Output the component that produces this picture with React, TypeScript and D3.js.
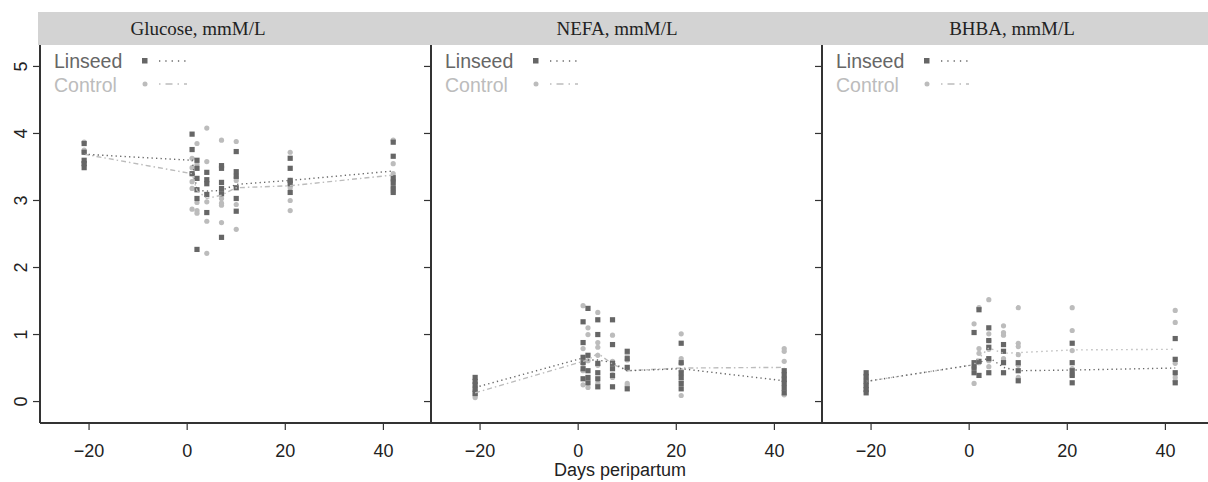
import React from "react";
import * as d3 from "d3";

// ---------- data ----------
const days = [-21, 1, 2, 4, 7, 10, 21, 42];
const panelTitles = ["Glucose, mmM/L", "NEFA, mmM/L", "BHBA, mmM/L"];
const groupNames = ["Linseed", "Control"];
const xTicks = [-20, 0, 20, 40];
const yTicks = [0, 1, 2, 3, 4, 5];

// individual observations, one array per day (same order as `days`)
const glucoseLinseed = [
  [3.85, 3.72, 3.6, 3.49, 3.55],
  [3.99, 3.76, 3.4],
  [3.6, 3.48, 3.33, 3.16, 3.03, 2.27],
  [3.42, 3.31, 3.25, 3.09, 2.82],
  [3.52, 3.48, 3.27, 3.18, 3.1, 2.45],
  [3.73, 3.43, 3.36, 3.19, 3.03, 2.84],
  [3.63, 3.48, 3.3, 3.25, 3.12],
  [3.87, 3.66, 3.34, 3.27, 3.19, 3.12],
];
const glucoseControl = [
  [3.87, 3.75, 3.72, 3.57, 3.54],
  [3.63, 3.49, 3.4, 3.28, 3.18, 2.87],
  [3.85, 3.54, 2.97, 2.85, 2.81],
  [4.08, 3.58, 2.98, 2.69, 2.21],
  [3.9, 3.12, 3.03, 2.96, 2.93, 2.67],
  [3.88, 3.34, 3.3, 2.94, 2.57],
  [3.72, 3.3, 3.22, 3.19, 3.0, 2.85],
  [3.9, 3.55, 3.4, 3.3, 3.19, 3.13],
];
const nefaLinseed = [
  [0.36, 0.3, 0.25, 0.18, 0.12],
  [1.19, 0.88, 0.66, 0.58, 0.49, 0.34],
  [1.39, 0.69, 0.46, 0.36, 0.28],
  [1.22, 1.0, 0.57, 0.43, 0.34, 0.22],
  [1.22, 0.85, 0.57, 0.49, 0.39, 0.22],
  [0.75, 0.64, 0.51, 0.19],
  [0.87, 0.58, 0.43, 0.36, 0.27, 0.19],
  [0.46, 0.4, 0.33, 0.27, 0.2, 0.13],
];
const nefaControl = [
  [0.22, 0.17, 0.12, 0.09, 0.06],
  [1.43, 0.79, 0.57, 0.46, 0.25],
  [1.1, 1.0, 0.61, 0.21],
  [1.33, 0.88, 0.81, 0.69, 0.54, 0.27],
  [0.99, 0.6, 0.4, 0.36],
  [0.7, 0.62, 0.49, 0.27, 0.24],
  [1.01, 0.64, 0.57, 0.46, 0.31, 0.09],
  [0.79, 0.75, 0.6, 0.36, 0.31, 0.1],
];
const bhbaLinseed = [
  [0.43, 0.37, 0.3, 0.24, 0.18, 0.13],
  [1.03, 0.58, 0.51, 0.43],
  [1.37, 0.6, 0.39],
  [1.1, 0.91, 0.81, 0.64, 0.43],
  [0.85, 0.75, 0.58, 0.43],
  [0.58, 0.46, 0.31],
  [0.87, 0.58, 0.46, 0.39, 0.28],
  [0.94, 0.63, 0.43, 0.28],
];
const bhbaControl = [
  [0.4, 0.35, 0.3, 0.25, 0.2, 0.16],
  [1.16, 0.51, 0.27],
  [1.4, 0.79, 0.72, 0.58],
  [1.52, 1.01, 0.91, 0.78, 0.61, 0.52],
  [1.13, 1.03, 0.99, 0.64, 0.61],
  [1.4, 0.87, 0.82, 0.7, 0.54, 0.36],
  [1.4, 1.06, 0.76, 0.49, 0.39],
  [1.36, 1.18, 0.57, 0.36, 0.31],
];

// group mean curves
const glucoseLinseedMean = [3.69, 3.6, 3.15, 3.14, 3.15, 3.24, 3.3, 3.44];
const glucoseControlMean = [3.69, 3.4, 3.15, 3.03, 3.08, 3.19, 3.22, 3.38];
const nefaLinseedMean = [0.21, 0.65, 0.62, 0.62, 0.58, 0.46, 0.49, 0.31];
const nefaControlMean = [0.13, 0.6, 0.62, 0.72, 0.56, 0.46, 0.5, 0.51];
const bhbaLinseedMean = [0.3, 0.55, 0.57, 0.66, 0.51, 0.46, 0.47, 0.5];
const bhbaControlMean = [0.3, 0.55, 0.65, 0.8, 0.72, 0.73, 0.77, 0.78];

const panels = [
  { title: panelTitles[0], lin: glucoseLinseed, ctl: glucoseControl, linM: glucoseLinseedMean, ctlM: glucoseControlMean },
  { title: panelTitles[1], lin: nefaLinseed, ctl: nefaControl, linM: nefaLinseedMean, ctlM: nefaControlMean },
  { title: panelTitles[2], lin: bhbaLinseed, ctl: bhbaControl, linM: bhbaLinseedMean, ctlM: bhbaControlMean },
];

// ---------- layout / style ----------
const W = 1208;
const H = 482;
const panelLeft = [40, 431, 822];
const panelW = 390.5;
const plotTop = 45;
const plotBottom = 423;
const headerTop = 12;
const titleCenters = [198, 617, 1012];
const DARK = "#666666";
const LIGHT = "#bcbcbc";
const AXIS = "#333333";
const sans = "'Liberation Sans', Arial, Helvetica, sans-serif";
const serif = "'Liberation Serif', 'Times New Roman', serif";
const ctlDash = ["5,3,1.5,3", "5,3,1.5,3", "1.5,3.5"];

const y = d3.scaleLinear().domain([-0.32, 5.32]).range([plotBottom, plotTop]);

export default function App() {
  return (
    <svg width={W} height={H} style={{ position: "absolute", left: 0, top: 0, background: "#fff" }}>
      {/* header strip */}
      <rect x={38} y={headerTop} width={W - 38} height={plotTop - headerTop} fill="#d3d3d3" />
      {panels.map((p, i) => (
        <text key={"t" + i} x={titleCenters[i]} y={35} textAnchor="middle" fontFamily={serif} fontSize={19} fill="#222">
          {p.title}
        </text>
      ))}

      {panels.map((p, i) => {
        const left = panelLeft[i];
        const x = d3.scaleLinear().domain([-30, 49.6]).range([left, left + panelW]);
        const lineGen = d3
          .line<number>()
          .x((_, k) => x(days[k]))
          .y((v) => y(v));
        return (
          <g key={"p" + i}>
            {/* control points */}
            {p.ctl.map((arr, k) =>
              arr.map((v, j) => (
                <circle key={`c${k}-${j}`} cx={x(days[k])} cy={y(v)} r={2.6} fill={LIGHT} />
              ))
            )}
            {/* linseed points */}
            {p.lin.map((arr, k) =>
              arr.map((v, j) => (
                <rect key={`s${k}-${j}`} x={x(days[k]) - 2.6} y={y(v) - 2.6} width={5.2} height={5.2} fill={DARK} />
              ))
            )}
            {/* mean lines */}
            <path d={lineGen(p.ctlM) || ""} fill="none" stroke={LIGHT} strokeWidth={1.4} strokeDasharray={ctlDash[i]} />
            <path d={lineGen(p.linM) || ""} fill="none" stroke={DARK} strokeWidth={1.4} strokeDasharray="1.3,3.2" />

            {/* legend */}
            <text x={left + 14} y={68} fontFamily={sans} fontSize={19.5} fill={DARK}>
              {groupNames[0]}
            </text>
            <rect x={left + 102} y={58} width={5.5} height={5.5} fill={DARK} />
            <line x1={left + 119} x2={left + 147} y1={61} y2={61} stroke={DARK} strokeWidth={1.3} strokeDasharray="1.3,5" />
            <text x={left + 14} y={91.5} fontFamily={sans} fontSize={19.5} fill={LIGHT}>
              {groupNames[1]}
            </text>
            <circle cx={left + 105} cy={84} r={2.5} fill={LIGHT} />
            <line x1={left + 119} x2={left + 147} y1={84} y2={84} stroke={LIGHT} strokeWidth={1.3} strokeDasharray="1.5,5,7,5" />

            {/* left border */}
            <line x1={left} x2={left} y1={plotTop} y2={plotBottom} stroke={AXIS} strokeWidth={2} />
            {/* y ticks */}
            {yTicks.map((t) => (
              <line key={"yt" + t} x1={left - 7} x2={left} y1={y(t)} y2={y(t)} stroke={AXIS} strokeWidth={1.2} />
            ))}
            {/* x ticks */}
            {xTicks.map((t) => (
              <g key={"xt" + t}>
                <line x1={x(t)} x2={x(t)} y1={plotBottom} y2={plotBottom + 7} stroke={AXIS} strokeWidth={1.2} />
                <text x={x(t)} y={457} textAnchor="middle" fontFamily={sans} fontSize={18} fill="#222">
                  {t < 0 ? "\u2212" + Math.abs(t) : String(t)}
                </text>
              </g>
            ))}
          </g>
        );
      })}

      {/* y tick labels (first panel only, rotated) */}
      {yTicks.map((t) => (
        <text
          key={"yl" + t}
          transform={`translate(${27},${y(t)}) rotate(-90)`}
          textAnchor="middle"
          fontFamily={sans}
          fontSize={18}
          fill="#222"
        >
          {t}
        </text>
      ))}

      {/* bottom axis line */}
      <line x1={panelLeft[0]} x2={W} y1={plotBottom} y2={plotBottom} stroke={AXIS} strokeWidth={2} />

      <text x={620} y={476} textAnchor="middle" fontFamily={sans} fontSize={18} fill="#222">
        Days peripartum
      </text>
    </svg>
  );
}
